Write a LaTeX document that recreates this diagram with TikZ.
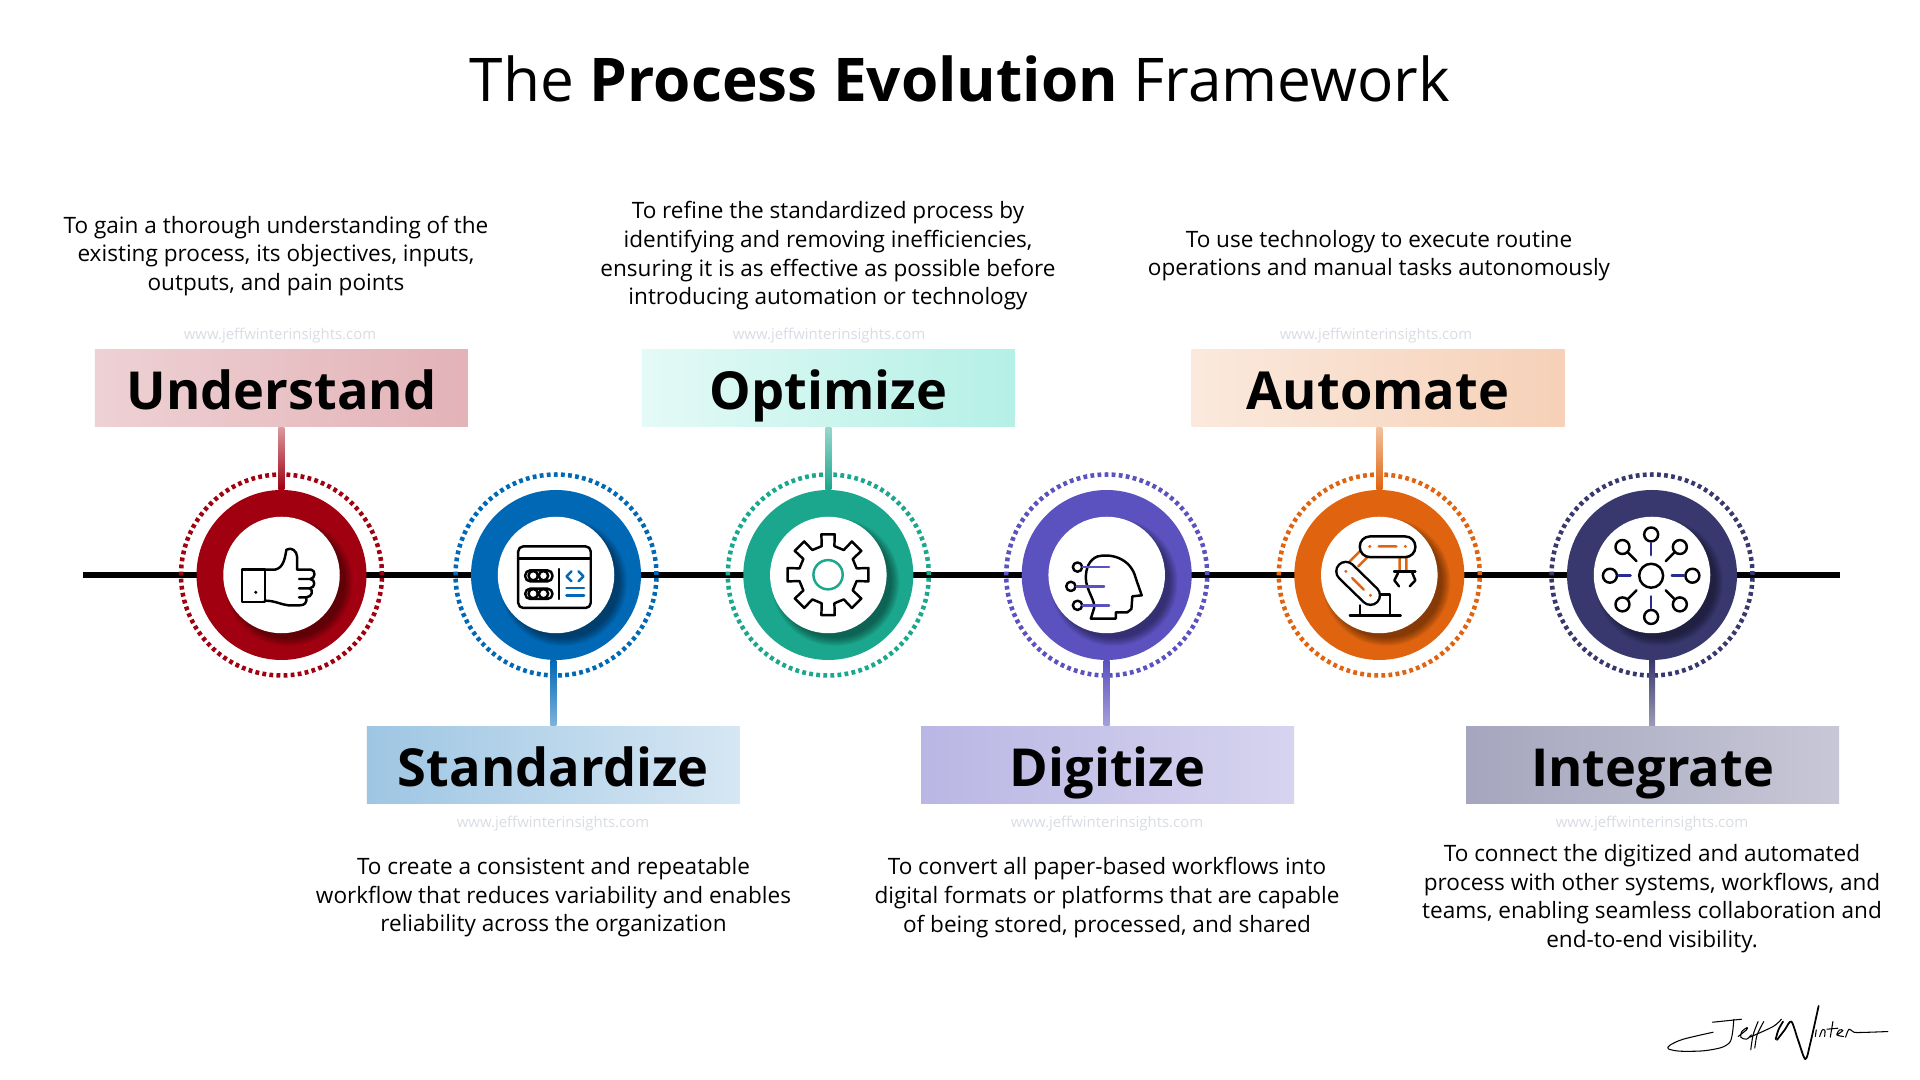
\documentclass[tikz,border=0pt]{standalone}
\usepackage{fontspec}
\setmainfont{Open Sans}
\usetikzlibrary{calc}
\definecolor{redU}{HTML}{A00010}
\definecolor{blueS}{HTML}{0068B5}
\definecolor{greenO}{HTML}{1BA78D}
\definecolor{purpleD}{HTML}{5B52BF}
\definecolor{orangeA}{HTML}{E0640F}
\definecolor{navyI}{HTML}{38386F}
\definecolor{markgrey}{HTML}{D9DDE3}
\definecolor{mintL}{HTML}{E4FAF6}
\definecolor{mintR}{HTML}{B4F0E6}
\tikzset{
    hubdisc/.style={circle, fill=#1, minimum size=1.7cm, inner sep=0pt},
    hubring/.style={circle, draw=#1, line width=.045cm, dash pattern=on .038cm off .033cm, minimum size=2.01cm, inner sep=0pt},
    hubface/.style={circle, fill=white, minimum size=1.165cm, inner sep=0pt},
    headbox/.style={minimum width=3.73cm, minimum height=.775cm, inner sep=0pt, text height=.6cm, text depth=.175cm, font=\fontsize{14.9pt}{16pt}\selectfont\bfseries},
    blurb/.style={align=center, inner sep=0pt, font=\fontsize{6.42pt}{8.14pt}\selectfont},
    webmark/.style={inner sep=0pt, text=markgrey, font=\fontsize{4.25pt}{5pt}\selectfont},
    icongrid/.style={x=.003333cm, y=-.003333cm},
    iconline/.style={line width=.7pt, line cap=round, line join=round},
    signline/.style={line width=.3pt, line cap=round, line join=round}
}
\begin{document}
\begin{tikzpicture}
    \fill[white] (0,0) rectangle (19.2,10.8);
    \useasboundingbox (0,0) rectangle (19.2,10.8);
    \node[inner sep=0pt, font=\fontsize{17.15pt}{20pt}\selectfont] (title) at (9.6,10.01) {The \textbf{Process Evolution} Framework};

    \coordinate (lineL) at (.83,5.05);
    \coordinate (lineR) at (18.4,5.05);
    \draw[line width=.065cm] (lineL) -- (lineR);

    \node[hubring=redU] (ringU) at (2.815,5.05) {};
    \node[hubring=blueS] (ringS) at (5.56,5.05) {};
    \node[hubring=greenO] (ringO) at (8.283,5.05) {};
    \node[hubring=purpleD] (ringD) at (11.067,5.05) {};
    \node[hubring=orangeA] (ringA) at (13.793,5.05) {};
    \node[hubring=navyI] (ringI) at (16.52,5.05) {};

    \node[hubdisc=redU] (hubU) at (ringU) {};
    \node[hubdisc=blueS] (hubS) at (ringS) {};
    \node[hubdisc=greenO] (hubO) at (ringO) {};
    \node[hubdisc=purpleD] (hubD) at (ringD) {};
    \node[hubdisc=orangeA] (hubA) at (ringA) {};
    \node[hubdisc=navyI] (hubI) at (ringI) {};

    \foreach \hubname in {hubU,hubS,hubO,hubD,hubA,hubI} {
        \begin{scope}
            \clip (\hubname) circle(.85);
            \foreach \k in {0,...,8}
                \fill[black, opacity=.05] ($(\hubname)+(.07,-.07)$) circle({.56+.01*\k});
        \end{scope}
    }

    \node[hubface] (faceU) at (hubU) {};
    \node[hubface] (faceS) at (hubS) {};
    \node[hubface] (faceO) at (hubO) {};
    \node[hubface] (faceD) at (hubD) {};
    \node[hubface] (faceA) at (hubA) {};
    \node[hubface] (faceI) at (hubI) {};

    \node[headbox, left color=redU!18, right color=redU!30] (boxU) at (2.814,6.92) {Understand};
    \node[headbox, left color=mintL, right color=mintR] (boxO) at (8.283,6.92) {Optimize};
    \node[headbox, left color=orangeA!14, right color=orangeA!30] (boxA) at (13.78,6.92) {Automate};
    \node[headbox, left color=blueS!38, right color=blueS!16] (boxS) at (5.533,3.15) {Standardize};
    \node[headbox, left color=purpleD!42, right color=purpleD!25] (boxD) at (11.075,3.15) {Digitize};
    \node[headbox, left color=navyI!45, right color=navyI!28] (boxI) at (16.525,3.15) {Integrate};

    \shade[top color=redU!40, bottom color=redU] ($(boxU.south)+(-.03,0)$) rectangle ($(boxU.south |- hubU.north)+(.03,0)$);
    \shade[top color=greenO!45, bottom color=greenO] ($(boxO.south)+(-.03,0)$) rectangle ($(boxO.south |- hubO.north)+(.03,0)$);
    \shade[top color=orangeA!40, bottom color=orangeA] ($(hubA.north |- boxA.south)+(-.03,0)$) rectangle ($(hubA.north)+(.03,0)$);
    \shade[top color=blueS, bottom color=blueS!50] ($(boxS.north |- hubS.south)+(-.03,0)$) rectangle ($(boxS.north)+(.03,0)$);
    \shade[top color=purpleD, bottom color=purpleD!55] ($(hubD.south)+(-.03,0)$) rectangle ($(hubD.south |- boxD.north)+(.03,0)$);
    \shade[top color=navyI, bottom color=navyI!50] ($(hubI.south)+(-.03,0)$) rectangle ($(hubI.south |- boxI.north)+(.03,0)$);

    \node[webmark] (markU) at (2.8,7.445) {www.jeffwinterinsights.com};
    \node[webmark] (markO) at (8.29,7.445) {www.jeffwinterinsights.com};
    \node[webmark] (markA) at (13.76,7.445) {www.jeffwinterinsights.com};
    \node[webmark] (markS) at (5.53,2.565) {www.jeffwinterinsights.com};
    \node[webmark] (markD) at (11.07,2.565) {www.jeffwinterinsights.com};
    \node[webmark] (markI) at (16.52,2.565) {www.jeffwinterinsights.com};

    \node[blurb] (textU) at (2.76,8.24) {To gain a thorough understanding of the\\existing process, its objectives, inputs,\\outputs, and pain points};
    \node[blurb] (textO) at (8.28,8.24) {To refine the standardized process by\\identifying and removing inefficiencies,\\ensuring it is as effective as possible before\\introducing automation or technology};
    \node[blurb] (textA) at (13.79,8.245) {To use technology to execute routine\\operations and manual tasks autonomously};
    \node[blurb] (textS) at (5.535,1.825) {To create a consistent and repeatable\\workflow that reduces variability and enables\\reliability across the organization};
    \node[blurb] (textD) at (11.07,1.825) {To convert all paper-based workflows into\\digital formats or platforms that are capable\\of being stored, processed, and shared};
    \node[blurb] (textI) at (16.52,1.815) {To connect the digitized and automated\\process with other systems, workflows, and\\teams, enabling seamless collaboration and\\end-to-end visibility.};

    \begin{scope}[shift={(1.6,6.4)}, icongrid]
        \draw[iconline] (247,390) rectangle (315,487);
        \fill (288,458) circle(5);
        \draw[iconline] (315,390) -- (345,390) .. controls (370,385) and (375,360) .. (380,330) .. controls (395,320) and (412,335) .. (412,350) -- (412,390) -- (455,390) .. controls (468,392) and (468,416) .. (452,418) -- (418,418);
        \draw[iconline] (452,418) .. controls (468,420) and (468,444) .. (450,446) -- (418,446);
        \draw[iconline] (450,446) .. controls (462,450) and (458,472) .. (440,473) -- (418,473);
        \draw[iconline] (440,473) .. controls (442,490) and (435,497) .. (420,497) -- (385,497) .. controls (365,495) and (345,483) .. (315,483);

        \draw[iconline, rounded corners=.05cm] (1077,320) rectangle (1295,505);
        \draw[iconline] (1077,357) -- (1295,357);
        \draw[iconline, rounded corners=.05cm] (1098,392) rectangle (1180,425);
        \draw[iconline, rounded corners=.05cm] (1098,447) rectangle (1180,478);
        \draw[iconline] (1122,408) circle(14) (1153,408) circle(14) (1122,462) circle(14) (1153,462) circle(14);
        \draw[iconline] (1200,388) -- (1200,478);
        \draw[iconline, blueS] (1237,395) -- (1222,410) -- (1237,425) (1258,395) -- (1273,410) -- (1258,425);
        \draw[iconline, blueS] (1222,445) -- (1275,445) (1222,467) -- (1275,467);
    \end{scope}

    \begin{scope}[shift={(7,6.3)}, icongrid]
        \begin{scope}[shift={(385,375)}]
            \draw[iconline] (-12.5:88) \foreach \a in {0,45,...,315} { -- (\a-12.5:88) -- (\a-9.4:123) -- (\a+9.4:123) -- (\a+12.5:88) } -- cycle;
            \draw[iconline, greenO] (0,0) circle(44);
        \end{scope}

        \draw[iconline] (1175,507) -- (1250,507) -- (1250,488) -- (1285,488) -- (1297,478) -- (1300,440) -- (1328,437) -- (1310,385) .. controls (1295,325) and (1235,310) .. (1195,320) .. controls (1170,330) and (1160,355) .. (1160,385) .. controls (1160,420) and (1190,455) .. (1185,475) -- (1175,507);
        \draw[iconline] (1135,352) circle(14) (1115,410) circle(14) (1135,467) circle(14);
        \draw[iconline, purpleD] (1150,352) -- (1230,352) (1132,410) -- (1215,410) (1150,467) -- (1230,467);
    \end{scope}

    \begin{scope}[shift={(12.6,6.3)}, icongrid]
        \draw[iconline, orangeA] (270,335) -- (300,305) (295,350) -- (325,320) (420,325) -- (420,360) (440,325) -- (440,360);
        \draw[iconline, fill=white, rounded corners=.1cm] (300,260) rectangle (467,322);
        \draw[line width=.19cm+.7pt, line cap=round] (258,365) -- (332,437);
        \draw[line width=.19cm-.7pt, line cap=round, white] (258,365) -- (332,437);
        \draw[iconline, orangeA] (357,290) -- (410,290) (277,385) -- (312,420);
        \fill[orangeA] (330,290) circle(5) (437,290) circle(5) (258,365) circle(5) (332,437) circle(5);
        \draw[iconline] (403,365) -- (467,365);
        \draw[iconline] (415,370) -- (404,392) -- (418,410) (458,370) -- (467,392) -- (450,410);
        \draw[iconline] (365,435) -- (390,435) -- (390,497) (300,467) -- (300,497) (270,497) -- (423,497);

        \begin{scope}[shift={(1176,378)}]
            \draw[iconline] (0,0) circle(36);
            \foreach \a in {0,90,180,270} {
                \draw[iconline] (\a:124) circle(21);
                \draw[iconline, navyI!75!blue] (\a:62) -- (\a:98);
            }
            \foreach \a in {45,135,225,315} {
                \draw[iconline] (\a:122) circle(21);
                \draw[iconline] (\a:62) -- (\a:100);
            }
        \end{scope}
    \end{scope}

    \begin{scope}[shift={(16.4,1)}, icongrid]
        \draw[signline] (218,127) -- (305,118);
        \draw[signline] plot[smooth] coordinates {(282,118) (278,160) (270,187) (245,203) (190,213) (120,214) (85,207) (90,196) (130,178) (220,157)};
        \draw[signline] plot[smooth] coordinates {(295,170) (320,150) (322,143) (306,155) (303,172) (320,178) (335,165)};
        \draw[signline] plot[smooth] coordinates {(355,125) (340,165) (333,210)};
        \draw[signline] plot[smooth] coordinates {(372,125) (352,165) (345,205)};
        \draw[signline] plot[smooth] coordinates {(330,172) (400,140) (425,118)};
        \draw[signline, line width=.5pt] plot[smooth] coordinates {(430,125) (416,150) (408,178)};
        \draw[signline, line width=.5pt] plot[smooth] coordinates {(412,180) (435,150) (455,125) (475,180) (497,238) (512,190) (537,78)};
        \draw[signline] (530,150) -- (527,170);
        \draw[signline] plot[smooth] coordinates {(540,170) (548,150) (556,152) (555,170)};
        \draw[signline] (580,125) -- (572,172) (562,148) -- (595,145);
        \draw[signline] plot[smooth] coordinates {(592,165) (610,152) (600,150) (592,165) (612,170)};
        \draw[signline] plot[smooth] coordinates {(618,172) (628,148) (640,155) (655,158) (745,155)};
    \end{scope}
\end{tikzpicture}
\end{document}
